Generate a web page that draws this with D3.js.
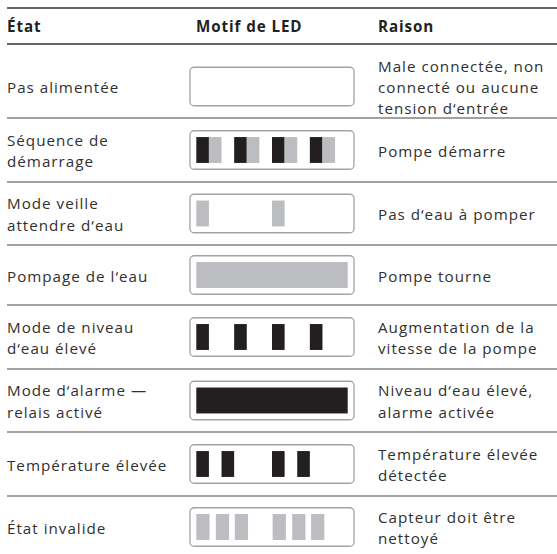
<!DOCTYPE html>
<html>
<head>
<meta charset="utf-8">
<script src="https://cdn.jsdelivr.net/npm/d3@7"></script>
<style>
  html, body { margin: 0; padding: 0; background: #ffffff; }
  svg { display: block; }
</style>
</head>
<body>
<svg id="chart" width="557" height="554"></svg>
<script>
// ---- data ----
const headers = ["État", "Motif de LED", "Raison"];
const states = [
  ["Pas alimentée"],
  ["Séquence de", "démarrage"],
  ["Mode veille", "attendre d‘eau"],
  ["Pompage de l‘eau"],
  ["Mode de niveau", "d‘eau élevé"],
  ["Mode d‘alarme —", "relais activé"],
  ["Température élevée"],
  ["État invalide"]
];
const reasons = [
  ["Male connectée, non", "connecté ou aucune", "tension d‘entrée"],
  ["Pompe démarre"],
  ["Pas d‘eau à pomper"],
  ["Pompe tourne"],
  ["Augmentation de la", "vitesse de la pompe"],
  ["Niveau d‘eau élevé,", "alarme activée"],
  ["Température élevée", "détectée"],
  ["Capteur doit être", "nettoyé"]
];
// LED segments per row: [start slot, length in slots, colour key] on a 12-slot strip
const ledPatterns = [
  [],
  [[0,1,"on"],[1,1,"dim"],[3,1,"on"],[4,1,"dim"],[6,1,"on"],[7,1,"dim"],[9,1,"on"],[10,1,"dim"]],
  [[0,1,"dim"],[6,1,"dim"]],
  [[0,12,"dim"]],
  [[0,1,"on"],[3,1,"on"],[6,1,"on"],[9,1,"on"]],
  [[0,12,"on"]],
  [[0,1,"on"],[2,1,"on"],[6,1,"on"],[8,1,"on"]],
  [[0,1.05,"dim"],[1.55,1.05,"dim"],[3.05,1.05,"dim"],[6.05,1.05,"dim"],[7.6,1.05,"dim"],[9.1,1.05,"dim"]]
];
const slotCount = 12;

// ---- layout ----
const W = 557, H = 554;
const font = "'Open Sans', sans-serif";
const colText = "#303030";
const ledColors = { on: "#231f20", dim: "#bcbdc0" };
const lineLeft = 7;
const colX = [7, 190, 378];
const boxW = 164, boxH = 38.5, boxPad = 6.3;
const lineH = 21.2;
const topLineY = 8, headerLineY = 44;
const rowBounds = [44, 118, 182, 245, 305, 369, 432, 496, 558];
const firstRowGap = 11;
const fs = 15.2, ls = 1.0;

const svg = d3.select("#chart");

// lines
svg.append("line").attr("x1", lineLeft).attr("x2", W).attr("y1", topLineY).attr("y2", topLineY)
  .attr("stroke", "#333").attr("stroke-width", 1.3);
svg.append("line").attr("x1", lineLeft).attr("x2", W).attr("y1", headerLineY).attr("y2", headerLineY)
  .attr("stroke", "#333").attr("stroke-width", 1.3);

// headers
svg.selectAll("text.hdr").data(headers).join("text")
  .attr("class", "hdr")
  .attr("x", (d, i) => colX[i] + (i === 1 ? 6 : 0))
  .attr("y", 32)
  .attr("font-family", font).attr("font-weight", 700).attr("font-size", fs)
  .attr("letter-spacing", 0.9)
  .attr("fill", "#222").text(d => d);

const rowIdx = d3.range(states.length);
const centers = rowIdx.map(i => {
  const top = rowBounds[i] + (i === 0 ? firstRowGap : 0);
  return (top + rowBounds[i + 1]) / 2;
});

// separators
svg.selectAll("line.sep").data(rowIdx.slice(0, -1)).join("line")
  .attr("class", "sep")
  .attr("x1", lineLeft).attr("x2", W)
  .attr("y1", i => rowBounds[i + 1]).attr("y2", i => rowBounds[i + 1])
  .attr("stroke", "#444").attr("stroke-width", 1.2);

function multiline(sel, lines, x, cy) {
  const n = lines.length;
  sel.selectAll("text").data(lines).join("text")
    .attr("x", x)
    .attr("y", (d, k) => cy + (k - (n - 1) / 2) * lineH + 6.5)
    .attr("font-family", font).attr("font-size", fs)
    .attr("letter-spacing", ls)
    .attr("fill", colText).text(d => d);
}

const rows = svg.selectAll("g.row").data(rowIdx).join("g").attr("class", "row");
rows.each(function(i) {
  const g = d3.select(this);
  multiline(g.append("g"), states[i], colX[0], centers[i]);
  multiline(g.append("g"), reasons[i], colX[2], centers[i]);
  const by = centers[i] - boxH / 2;
  g.append("rect")
    .attr("x", colX[1]).attr("y", by).attr("width", boxW).attr("height", boxH)
    .attr("rx", 4).attr("ry", 4)
    .attr("fill", "#fff").attr("stroke", "#a3a3a3").attr("stroke-width", 1.3);
  const xs = d3.scaleLinear().domain([0, slotCount])
    .range([colX[1] + boxPad, colX[1] + boxW - boxPad]);
  g.selectAll("rect.seg").data(ledPatterns[i]).join("rect")
    .attr("class", "seg")
    .attr("x", d => xs(d[0]))
    .attr("width", d => xs(d[0] + d[1]) - xs(d[0]))
    .attr("y", by + boxPad).attr("height", boxH - 2 * boxPad)
    .attr("fill", d => ledColors[d[2]]);
});
</script>
</body>
</html>
